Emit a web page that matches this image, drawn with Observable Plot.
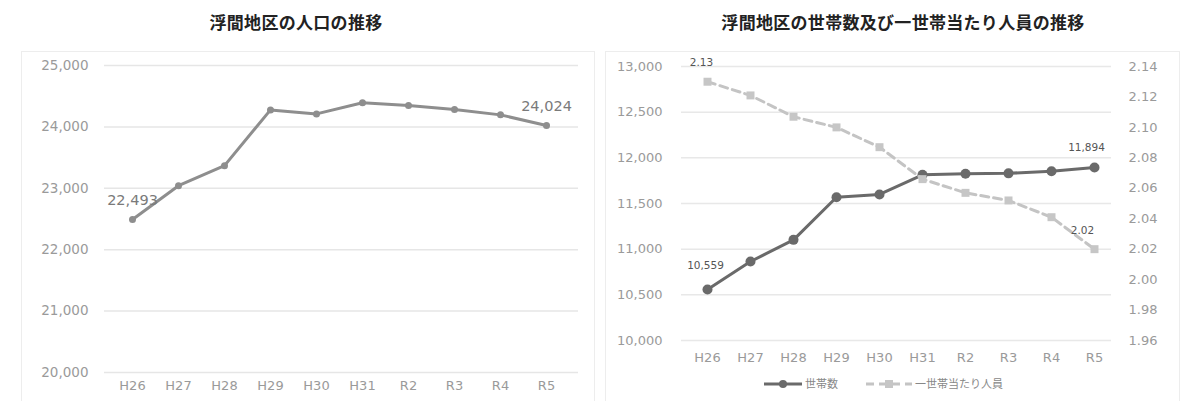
<!DOCTYPE html>
<html><head><meta charset="utf-8">
<script src="https://cdn.jsdelivr.net/npm/d3@7"></script>
<script src="https://cdn.jsdelivr.net/npm/@observablehq/plot@0.6"></script>
<style>
body{margin:0;background:#fff;width:1185px;height:401px;overflow:hidden;position:relative;font-family:"Noto Sans CJK JP",sans-serif;}
.title{position:absolute;top:10px;width:420px;font-weight:bold;font-size:17px;line-height:24px;color:#222;text-align:center;letter-spacing:0.3px;}
.panel{position:absolute;top:51px;height:350px;border:1px solid #ededed;border-bottom:none;box-sizing:border-box;background:#fff;}
.layer{position:absolute;left:0;top:0;}
.legend{position:absolute;top:322px;left:0;font-family:"Noto Sans CJK JP",sans-serif;font-size:11px;color:#888;}
.legend svg{position:absolute;top:0;}
.legend span{position:absolute;top:1px;white-space:nowrap;}
</style></head><body>
<div class="title" style="left:86px">浮間地区の人口の推移</div>
<div class="title" style="left:693px">浮間地区の世帯数及び一世帯当たり人員の推移</div>
<div id="p1" class="panel" style="left:21px;width:574px"></div>
<div id="p2" class="panel" style="left:605px;width:575px"></div>
<script>
const years = ["H26","H27","H28","H29","H30","H31","R2","R3","R4","R5"];
const population = [22493, 23042, 23369, 24277, 24212, 24392, 24347, 24282, 24196, 24024];
const households = [10559, 10865, 11102, 11569, 11599, 11814, 11825, 11830, 11854, 11894];
const perHousehold = [2.13, 2.121, 2.107, 2.100, 2.087, 2.066, 2.057, 2.052, 2.041, 2.02];
const popTicks = [20000, 21000, 22000, 23000, 24000, 25000];
const hhTicks = [10000, 10500, 11000, 11500, 12000, 12500, 13000];
const phTicks = [1.96, 1.98, 2.00, 2.02, 2.04, 2.06, 2.08, 2.10, 2.12, 2.14];
const seriesNames = ["世帯数", "一世帯当たり人員"];

const fmt = d3.format(",");
const baseStyle = {fontFamily:"DejaVu Sans", fontSize:"13px", color:"#9a9a9a", background:"transparent", overflow:"visible"};

// Left chart
const d1 = years.map((y,i)=>({year:y, value:population[i]}));
const c1 = Plot.plot({
  width:572, height:349, marginTop:13, marginBottom:29, marginLeft:82, marginRight:16,
  style:baseStyle,
  x:{type:"point", domain:years, padding:0.5, range:[82.6, 550.6], label:null},
  y:{domain:[20000,25000], label:null},
  marks:[
    Plot.gridY(popTicks,{stroke:"#e6e6e6", strokeOpacity:1, strokeWidth:1.5}),
    Plot.axisY(popTicks,{tickSize:0, tickPadding:16, tickFormat:fmt, fontSize:13.5, label:null}),
    Plot.axisX({tickSize:0, tickPadding:8, label:null, fontSize:13}),
    Plot.line(d1,{x:"year", y:"value", stroke:"#8e8e8e", strokeWidth:3}),
    Plot.dot(d1,{x:"year", y:"value", fill:"#8e8e8e", r:3.5}),
    Plot.text([d1[0], d1[d1.length-1]],{x:"year", y:"value", text:d=>fmt(d.value), dy:-19, fill:"#7a7a7a", fontSize:14.5})
  ]
});
c1.classList.add("layer");
document.getElementById("p1").appendChild(c1);

// Right chart: households (left axis)
const d2 = years.map((y,i)=>({year:y, value:households[i]}));
const d3s = years.map((y,i)=>({year:y, value:perHousehold[i]}));
const common = {width:573, height:349, marginTop:14, marginBottom:61, marginLeft:75, marginRight:68};
const xRange = [76.2, 511.8];
const c2 = Plot.plot({
  ...common,
  style:baseStyle,
  x:{type:"point", domain:years, padding:0.5, range:xRange, label:null},
  y:{domain:[10000,13000], label:null},
  marks:[
    Plot.gridY(hhTicks,{stroke:"#e8e8e8", strokeOpacity:1, strokeWidth:1.5}),
    Plot.axisY(hhTicks,{tickSize:0, tickPadding:19, tickFormat:fmt, fontSize:13, label:null}),
    Plot.axisX({tickSize:0, tickPadding:12, label:null, fontSize:13}),
    Plot.line(d2,{x:"year", y:"value", stroke:"#6a6a6a", strokeWidth:3}),
    Plot.dot(d2,{x:"year", y:"value", fill:"#6a6a6a", r:5}),
    Plot.text([d2[0]],{x:"year", y:"value", text:d=>fmt(d.value), dx:-2, dy:-24, fill:"#555", fontSize:10.5}),
    Plot.text([d2[d2.length-1]],{x:"year", y:"value", text:d=>fmt(d.value), dx:-8, dy:-20, fill:"#555", fontSize:10.5})
  ]
});
c2.classList.add("layer");
document.getElementById("p2").appendChild(c2);

// Right chart: per household (right axis)
const c3 = Plot.plot({
  ...common,
  style:baseStyle,
  x:{type:"point", domain:years, padding:0.5, range:xRange, axis:null},
  y:{domain:[1.96,2.14], label:null},
  marks:[
    Plot.axisY(phTicks,{anchor:"right", tickSize:0, tickPadding:17, tickFormat:d=>d.toFixed(2), fontSize:13, label:null}),
    Plot.line(d3s,{x:"year", y:"value", stroke:"#c4c4c4", strokeWidth:3, strokeDasharray:"8,5"}),
    Plot.dot(d3s,{x:"year", y:"value", fill:"#c6c6c6", symbol:"square", r:4.5}),
    Plot.text([d3s[0]],{x:"year", y:"value", text:d=>d.value.toFixed(2), dx:-6, dy:-19, fill:"#555", fontSize:10.5}),
    Plot.text([d3s[d3s.length-1]],{x:"year", y:"value", text:d=>d.value.toFixed(2), dx:-12, dy:-19, fill:"#555", fontSize:10.5})
  ]
});
c3.classList.add("layer");
document.getElementById("p2").appendChild(c3);

// Legend
const lg = document.createElement("div");
lg.className = "legend";
lg.innerHTML =
  `<svg width="40" height="20" style="left:158px"><line x1="0" y1="10" x2="38" y2="10" stroke="#6a6a6a" stroke-width="3"/><circle cx="19" cy="10" r="4" fill="#6a6a6a"/></svg>` +
  `<span style="left:199px">${seriesNames[0]}</span>` +
  `<svg width="48" height="20" style="left:260px"><line x1="0" y1="10" x2="46" y2="10" stroke="#c4c4c4" stroke-width="3" stroke-dasharray="8,5"/><rect x="19" y="6" width="8" height="8" fill="#c6c6c6"/></svg>` +
  `<span style="left:309px">${seriesNames[1]}</span>`;
document.getElementById("p2").appendChild(lg);
</script>
</body></html>
